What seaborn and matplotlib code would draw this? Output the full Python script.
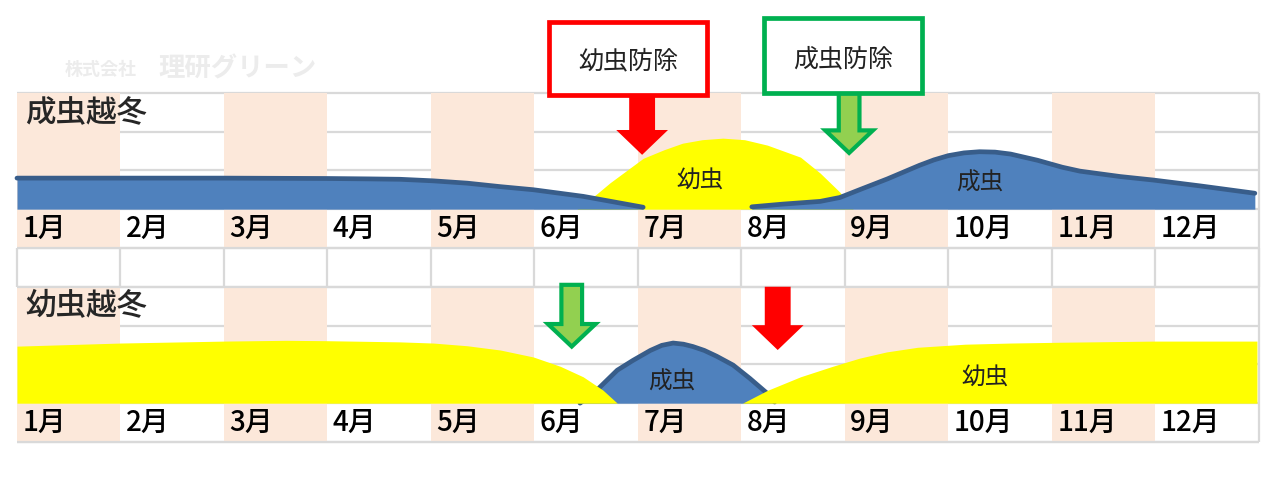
import matplotlib
matplotlib.use('Agg')
import matplotlib.pyplot as plt
from matplotlib.patches import Rectangle, FancyArrow
import seaborn as sns

# month columns and section titles
months = ['1月', '2月', '3月', '4月', '5月', '6月',
          '7月', '8月', '9月', '10月', '11月', '12月']
section_titles = ['成虫越冬', '幼虫越冬']
stage_labels = ['幼虫', '成虫']
control_labels = ['幼虫防除', '成虫防除']

# population curves: x in months from 1 Jan, height in grid rows above the band floor
# upper chart (adult overwintering)
adult_winter_x = [0.0, 1.0, 2.0, 3.0, 3.4, 3.7, 4.02, 4.35, 4.67, 4.99, 5.47, 6.05]
adult_winter_h = [0.80, 0.80, 0.80, 0.79, 0.78, 0.77, 0.73, 0.67, 0.58, 0.50, 0.33, 0.05]
larva_summer_x = [5.41, 5.6, 5.73, 6.05, 6.25, 6.43, 6.62, 6.82, 7.03, 7.25, 7.57, 7.76, 7.95, 8.03, 8.08]
larva_summer_h = [0.0, 0.39, 0.68, 1.31, 1.53, 1.70, 1.79, 1.83, 1.79, 1.65, 1.34, 0.93, 0.44, 0.15, 0.0]
adult_autumn_x = [7.10, 7.4, 7.76, 7.95, 8.14, 8.41, 8.72, 8.86, 9.0, 9.15, 9.3, 9.45, 9.6, 9.86,
                  10.1, 10.27, 10.66, 10.98, 11.43, 11.96]
adult_autumn_h = [0.06, 0.13, 0.20, 0.30, 0.50, 0.78, 1.13, 1.27, 1.38, 1.45, 1.48, 1.47, 1.42, 1.26,
                  1.08, 0.98, 0.84, 0.75, 0.60, 0.41]

# lower chart (larva overwintering)
larva_winter_x = [0.0, 1.0, 2.0, 2.6, 3.0, 3.7, 4.02, 4.35, 4.67, 4.99, 5.25, 5.47, 5.66, 5.8]
larva_winter_h = [1.47, 1.55, 1.60, 1.62, 1.61, 1.58, 1.55, 1.48, 1.37, 1.19, 0.95, 0.68, 0.34, 0.0]
adult_summer_x = [5.44, 5.6, 5.8, 5.95, 6.12, 6.23, 6.34, 6.44, 6.53, 6.64, 6.76, 6.92, 7.08, 7.25, 7.32]
adult_summer_h = [0.0, 0.33, 0.85, 1.10, 1.36, 1.49, 1.55, 1.52, 1.46, 1.36, 1.21, 0.98, 0.64, 0.25, 0.03]
larva_autumn_x = [7.01, 7.25, 7.57, 7.88, 8.14, 8.4, 8.7, 9.16, 9.6, 10.07, 10.98, 11.98]
larva_autumn_h = [0.0, 0.33, 0.68, 0.95, 1.16, 1.32, 1.44, 1.52, 1.55, 1.57, 1.60, 1.60]

# timing of control (month position of arrows)
larva_control_x = [6.04, 7.35]   # upper, lower
adult_control_x = [8.04, 5.36]

sns.set_theme(style='white')
plt.rcParams['font.family'] = ['Noto Sans CJK JP', 'DejaVu Sans']

peach = '#fce8da'
grid_c = '#d9d9d9'
blue = '#4f81bd'
blue_edge = '#385d8a'
yellow = '#ffff00'
red = '#ff0000'
green_fill = '#92d050'
green_edge = '#00b050'

fig = plt.figure(figsize=(12.8, 4.91), dpi=100)
ax = fig.add_axes([0, 0, 1, 1])
ax.set_xlim(-0.164, 12.203)
ax.set_ylim(-1.263, 11.39)
ax.axis('off')

n = len(months)
# sheet grid
for r in range(10):
    ax.hlines(r, 0, n, color=grid_c, lw=1.6, zorder=0.5)
for j in range(n):
    if j % 2 == 0:
        ax.add_patch(Rectangle((j, 0), 1, 4, fc=peach, ec='none', zorder=1))
        ax.add_patch(Rectangle((j, 5), 1, 4, fc=peach, ec='none', zorder=1))
ax.hlines([0, 4, 5], 0, n, color=grid_c, lw=1.6, zorder=1.5)
ax.vlines(range(n + 1), 4, 5, color=grid_c, lw=1.6, zorder=1.5)
ax.vlines(n, 0, 9, color=grid_c, lw=1.6, zorder=1.5)

# month labels for both charts
for base in [5, 0]:
    for j, m in enumerate(months):
        ax.text(j + 0.05, base + 0.5, m, fontsize=20, fontweight='medium',
                color='black', ha='left', va='center', zorder=7)

ax.text(0.08, 8.5, section_titles[0], fontsize=22, fontweight='medium',
        ha='left', va='center', zorder=7)
ax.text(0.08, 3.5, section_titles[1], fontsize=22, fontweight='medium',
        ha='left', va='center', zorder=7)

def blue_curve(x, h, base, z):
    top = [base + v for v in h]
    ax.fill_between(x, base, top, color=blue, lw=0, zorder=z)
    sns.lineplot(x=x, y=top, color=blue_edge, lw=3.4, ax=ax, zorder=z + 0.1,
                 legend=False, sort=False, solid_capstyle='round')

def yellow_curve(x, h, base, z):
    ax.fill_between(x, base, [base + v for v in h], color=yellow, lw=0, zorder=z)

# upper chart: larvae under adults
yellow_curve(larva_summer_x, larva_summer_h, 6, 3)
blue_curve(adult_winter_x, adult_winter_h, 6, 4)
blue_curve(adult_autumn_x, adult_autumn_h, 6, 4)

# lower chart: adults under larvae
blue_curve(adult_summer_x, adult_summer_h, 1, 3)
yellow_curve(larva_winter_x, larva_winter_h, 1, 4)
yellow_curve(larva_autumn_x, larva_autumn_h, 1, 4)

lab_kw = dict(fontsize=17, color='#222222', ha='center', va='center', zorder=7)
ax.text(6.6, 6.75, stage_labels[0], **lab_kw)
ax.text(9.3, 6.68, stage_labels[1], **lab_kw)
ax.text(6.33, 1.55, stage_labels[1], **lab_kw)
ax.text(9.35, 1.68, stage_labels[0], **lab_kw)

# control arrows
def red_arrow(x, y0, y1):
    ax.add_patch(FancyArrow(x, y0, 0, y1 - y0, width=0.25, head_width=0.5,
                            head_length=0.64, length_includes_head=True,
                            fc=red, ec='none', zorder=6))

def green_arrow(x, y0, y1):
    ax.add_patch(FancyArrow(x, y0, 0, y1 - y0, width=0.2, head_width=0.46,
                            head_length=0.58, length_includes_head=True,
                            fc=green_fill, ec=green_edge, lw=3, zorder=6,
                            joinstyle='miter'))

red_arrow(larva_control_x[0], 9.0, 7.4)
green_arrow(adult_control_x[0], 9.0, 7.45)
red_arrow(larva_control_x[1], 4.0, 2.37)
green_arrow(adult_control_x[1], 4.05, 2.46)

# labelled boxes above the upper chart
ax.add_patch(Rectangle((5.14, 8.95), 1.53, 1.87, fc='white', ec=red, lw=3.4,
                       zorder=6, clip_on=False))
ax.add_patch(Rectangle((7.22, 9.0), 1.52, 1.93, fc='white', ec=green_edge, lw=3.4,
                       zorder=6, clip_on=False))
ax.text(5.905, 9.8, control_labels[0], fontsize=18, color='#222222',
        ha='center', va='center', zorder=7)
ax.text(7.98, 9.85, control_labels[1], fontsize=18, color='#222222',
        ha='center', va='center', zorder=7)

# faint company watermark
ax.text(0.46, 9.6, '株式会社', fontsize=13, fontweight='bold', color='#ececec',
        ha='left', va='center', zorder=0.2)
ax.text(1.37, 9.6, '理研グリーン', fontsize=19, fontweight='bold', color='#ececec',
        ha='left', va='center', zorder=0.2)

fig.savefig('out.png', dpi=100)
